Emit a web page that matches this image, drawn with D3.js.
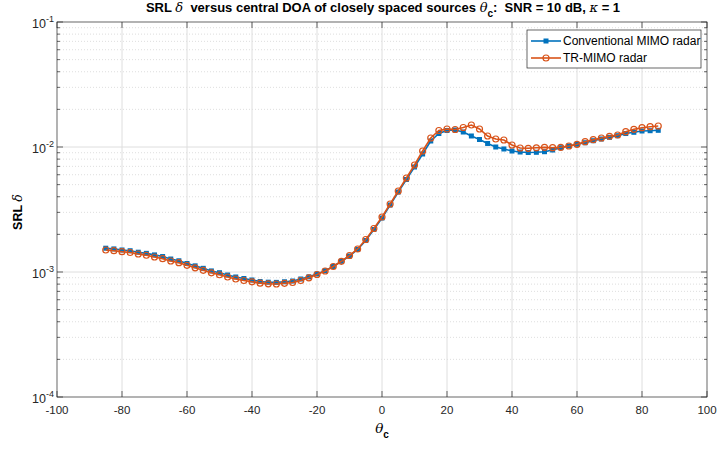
<!DOCTYPE html>
<html>
<head>
<meta charset="utf-8">
<script src="https://cdn.jsdelivr.net/npm/d3@7"></script>
<style>
body { margin: 0; background: #fff; }
svg { font-family: "Liberation Sans", Arial, Helvetica, sans-serif; }
.pre { white-space: pre; }
</style>
</head>
<body>
<svg id="chart" width="719" height="450"></svg>
<script>
// central DOA (degrees)
var thetaC = [-85, -82.5, -80, -77.5, -75, -72.5, -70, -67.5, -65, -62.5, -60, -57.5, -55, -52.5, -50, -47.5,
  -45, -42.5, -40, -37.5, -35, -32.5, -30, -27.5, -25, -22.5, -20, -17.5, -15, -12.5, -10, -7.5, -5, -2.5,
  0, 2.5, 5, 7.5, 10, 12.5, 15, 17.5, 20, 22.5, 25, 27.5, 30, 32.5, 35, 37.5, 40, 42.5, 45, 47.5,
  50, 52.5, 55, 57.5, 60, 62.5, 65, 67.5, 70, 72.5, 75, 77.5, 80, 82.5, 85];

var srlConventional = [1.55e-3, 1.53e-3, 1.50e-3, 1.48e-3, 1.44e-3, 1.41e-3, 1.37e-3, 1.33e-3, 1.27e-3, 1.23e-3,
  1.17e-3, 1.12e-3, 1.07e-3, 1.02e-3, 9.87e-4, 9.46e-4, 9.12e-4, 8.87e-4, 8.63e-4, 8.39e-4, 8.29e-4, 8.26e-4,
  8.35e-4, 8.47e-4, 8.79e-4, 9.15e-4, 9.64e-4, 1.024e-3, 1.107e-3, 1.218e-3, 1.343e-3, 1.514e-3, 1.786e-3,
  2.188e-3, 2.704e-3, 3.436e-3, 4.365e-3, 5.495e-3, 6.918e-3, 8.79e-3, 1.117e-2, 1.282e-2, 1.355e-2,
  1.368e-2, 1.318e-2, 1.225e-2, 1.148e-2, 1.067e-2, 1.0e-2, 9.64e-3, 9.29e-3, 9.12e-3, 9.04e-3, 9.07e-3,
  9.17e-3, 9.46e-3, 9.87e-3, 1.019e-2, 1.051e-2, 1.082e-2, 1.123e-2, 1.159e-2, 1.196e-2, 1.231e-2,
  1.282e-2, 1.311e-2, 1.343e-2, 1.350e-2, 1.360e-2];

var srlTR = [1.50e-3, 1.481e-3, 1.454e-3, 1.432e-3, 1.393e-3, 1.362e-3, 1.318e-3, 1.278e-3, 1.225e-3, 1.187e-3,
  1.131e-3, 1.080e-3, 1.032e-3, 9.85e-4, 9.51e-4, 9.12e-4, 8.79e-4, 8.55e-4, 8.35e-4, 8.14e-4, 8.05e-4, 8.02e-4,
  8.12e-4, 8.24e-4, 8.55e-4, 8.99e-4, 9.55e-4, 1.019e-3, 1.107e-3, 1.218e-3, 1.355e-3, 1.528e-3, 1.820e-3,
  2.228e-3, 2.754e-3, 3.499e-3, 4.446e-3, 5.649e-3, 7.178e-3, 9.29e-3, 1.180e-2, 1.355e-2, 1.393e-2,
  1.380e-2, 1.432e-2, 1.500e-2, 1.393e-2, 1.225e-2, 1.159e-2, 1.138e-2, 1.038e-2, 9.82e-3, 9.76e-3, 9.85e-3,
  9.94e-3, 9.87e-3, 9.94e-3, 1.019e-2, 1.051e-2, 1.103e-2, 1.144e-2, 1.180e-2, 1.218e-2, 1.247e-2,
  1.326e-2, 1.385e-2, 1.427e-2, 1.454e-2, 1.472e-2];

var xTicks = [-100, -80, -60, -40, -20, 0, 20, 40, 60, 80, 100];
var yTicks = [1e-4, 1e-3, 1e-2, 1e-1];
var yExp = ["-4", "-3", "-2", "-1"];
var seriesNames = ["Conventional MIMO radar", "TR-MIMO radar"];

var blue = "#0072BD", orange = "#D95319", axisCol = "#262626";

var pl = 57, pr = 707, pt = 22, pb = 397;
var svg = d3.select("#chart");
var x = d3.scaleLinear().domain([-100, 100]).range([pl, pr]);
var y = d3.scaleLog().domain([1e-4, 1e-1]).range([pb, pt]);

// grid
var grid = svg.append("g");
var minor = [];
[1e-4, 1e-3, 1e-2].forEach(function(d) {
  for (var k = 2; k < 10; k++) minor.push(d * k);
});
grid.selectAll(".ymin").data(minor).enter().append("line")
  .attr("x1", pl).attr("x2", pr)
  .attr("y1", function(d) { return y(d); }).attr("y2", function(d) { return y(d); })
  .attr("stroke", "#d0d0d0").attr("stroke-width", 0.7).attr("stroke-dasharray", "1,2");
grid.selectAll(".ymaj").data(yTicks.slice(1, 3)).enter().append("line")
  .attr("x1", pl).attr("x2", pr)
  .attr("y1", function(d) { return y(d); }).attr("y2", function(d) { return y(d); })
  .attr("stroke", "#dedede").attr("stroke-width", 1);
grid.selectAll(".xmaj").data(xTicks.slice(1, -1)).enter().append("line")
  .attr("y1", pt).attr("y2", pb)
  .attr("x1", function(d) { return x(d); }).attr("x2", function(d) { return x(d); })
  .attr("stroke", "#dedede").attr("stroke-width", 1);

// axes box + ticks
var ax = svg.append("g").attr("stroke", axisCol).attr("stroke-width", 0.7).attr("fill", "none");
ax.append("rect").attr("x", pl).attr("y", pt).attr("width", pr - pl).attr("height", pb - pt);
xTicks.forEach(function(d) {
  ax.append("line").attr("x1", x(d)).attr("x2", x(d)).attr("y1", pb).attr("y2", pb - 6);
  ax.append("line").attr("x1", x(d)).attr("x2", x(d)).attr("y1", pt).attr("y2", pt + 6);
});
yTicks.forEach(function(d) {
  ax.append("line").attr("x1", pl).attr("x2", pl + 6).attr("y1", y(d)).attr("y2", y(d));
  ax.append("line").attr("x1", pr).attr("x2", pr - 6).attr("y1", y(d)).attr("y2", y(d));
});
minor.forEach(function(d) {
  ax.append("line").attr("x1", pl).attr("x2", pl + 3).attr("y1", y(d)).attr("y2", y(d));
  ax.append("line").attr("x1", pr).attr("x2", pr - 3).attr("y1", y(d)).attr("y2", y(d));
});

// tick labels
svg.append("g").selectAll("text").data(xTicks).enter().append("text")
  .attr("x", function(d) { return x(d); }).attr("y", 414)
  .attr("text-anchor", "middle").attr("font-size", 11.5).attr("fill", axisCol)
  .text(function(d) { return d; });
var yl = svg.append("g").selectAll("text").data(yTicks).enter().append("text")
  .attr("x", 54).attr("y", function(d) { return y(d) + 6; })
  .attr("text-anchor", "end").attr("font-size", 12.5).attr("fill", axisCol);
yl.append("tspan").text("10");
yl.append("tspan").attr("dy", -6).attr("font-size", 9).text(function(d, i) { return yExp[i]; });

// series
var line = d3.line().x(function(d) { return x(d[0]); }).y(function(d) { return y(d[1]); });
var dataA = d3.zip(thetaC, srlConventional), dataB = d3.zip(thetaC, srlTR);

svg.append("path").datum(dataA).attr("d", line).attr("fill", "none").attr("stroke", blue).attr("stroke-width", 1.6);
svg.append("g").selectAll("rect").data(dataA).enter().append("rect")
  .attr("x", function(d) { return x(d[0]) - 2.5; }).attr("y", function(d) { return y(d[1]) - 2.5; })
  .attr("width", 5).attr("height", 5).attr("fill", blue);

svg.append("path").datum(dataB).attr("d", line).attr("fill", "none").attr("stroke", orange).attr("stroke-width", 1.6);
svg.append("g").selectAll("circle").data(dataB).enter().append("circle")
  .attr("cx", function(d) { return x(d[0]); }).attr("cy", function(d) { return y(d[1]); })
  .attr("r", 3).attr("fill", "none").attr("stroke", orange).attr("stroke-width", 1.2);

// legend
var lg = svg.append("g");
lg.append("rect").attr("x", 527).attr("y", 30).attr("width", 174).attr("height", 38)
  .attr("fill", "#fff").attr("stroke", axisCol).attr("stroke-width", 0.7);
[0, 1].forEach(function(i) {
  var ly = 41 + i * 17;
  lg.append("line").attr("x1", 531).attr("x2", 561).attr("y1", ly).attr("y2", ly)
    .attr("stroke", i ? orange : blue).attr("stroke-width", 1.6);
  if (i) lg.append("circle").attr("cx", 546).attr("cy", ly).attr("r", 3).attr("fill", "none").attr("stroke", orange).attr("stroke-width", 1.2);
  else lg.append("rect").attr("x", 543.5).attr("y", ly - 2.5).attr("width", 5).attr("height", 5).attr("fill", blue);
  lg.append("text").attr("x", 563).attr("y", ly + 4).attr("font-size", 12).attr("fill", "#000").text(seriesNames[i]);
});

// title
var serif = "'DejaVu Serif', 'Liberation Serif', serif";
var t = svg.append("text").attr("class", "pre").attr("x", 383).attr("y", 12).attr("text-anchor", "middle")
  .attr("font-size", 13).attr("font-weight", "bold").attr("fill", "#000");
t.append("tspan").text("SRL ");
t.append("tspan").attr("font-family", serif).attr("font-style", "italic").attr("font-weight", "normal").text("δ");
t.append("tspan").text("  versus central DOA of closely spaced sources ");
t.append("tspan").attr("font-family", serif).attr("font-style", "italic").attr("font-weight", "normal").text("θ");
t.append("tspan").attr("dy", 5).attr("font-size", 10).text("c");
t.append("tspan").attr("dy", -5).text(":  SNR = 10 dB, ");
t.append("tspan").attr("font-family", serif).attr("font-style", "italic").attr("font-weight", "normal").text("κ");
t.append("tspan").text(" = 1");

// axis labels
var yt = svg.append("text").attr("transform", "translate(22,212) rotate(-90)").attr("text-anchor", "middle")
  .attr("font-size", 12.5).attr("font-weight", "bold").attr("fill", "#000");
yt.append("tspan").text("SRL ");
yt.append("tspan").attr("font-family", serif).attr("font-style", "italic").attr("font-weight", "normal").text("δ");

var xt = svg.append("text").attr("x", 382).attr("y", 433).attr("text-anchor", "middle")
  .attr("font-size", 13.5).attr("fill", "#000");
xt.append("tspan").attr("font-family", serif).attr("font-style", "italic").text("θ");
xt.append("tspan").attr("dy", 5).attr("font-size", 10).attr("font-weight", "bold").text("c");
</script>
</body>
</html>
